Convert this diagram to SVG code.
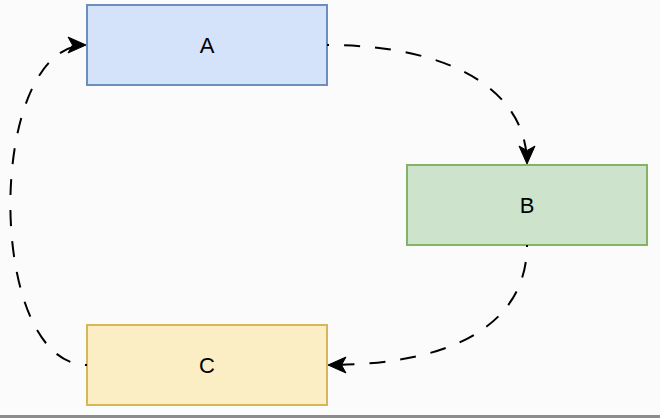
<svg xmlns="http://www.w3.org/2000/svg" width="660" height="418" viewBox="0 0 660 418">
  <style>
    .box { stroke-width: 2; }
    .label { font-family: "Liberation Sans", Arial, Helvetica, sans-serif; fill: #000; text-anchor: middle; }
    .edge { fill: none; stroke: #000; stroke-width: 2; stroke-dasharray: 16 15; stroke-dashoffset: 14; marker-end: url(#arrow); }
  </style>
  <defs>
    <marker id="arrow" markerUnits="userSpaceOnUse" viewBox="-20 -10 22 20" refX="0" refY="0" markerWidth="22" markerHeight="20" orient="auto" overflow="visible">
      <path d="M0,0 L-18,-8 L-13.5,0 L-18,8 Z" fill="#000" stroke="#000" stroke-width="1" stroke-linejoin="miter"/>
    </marker>
  </defs>

  <rect x="0" y="0" width="660" height="418" fill="#fbfbfb"/>
  <line x1="0" y1="416.5" x2="660" y2="416.5" stroke="#8c8c8c" stroke-width="3"/>

  <g id="node-a">
    <rect class="box" x="87" y="5" width="240" height="80" fill="#d4e3f9" stroke="#6c8ebf"/>
    <text class="label" x="207" y="53" font-size="22">A</text>
  </g>
  <g id="node-b">
    <rect class="box" x="407" y="165" width="240" height="80" fill="#cde3cc" stroke="#82b366"/>
    <text class="label" x="527" y="213" font-size="22">B</text>
  </g>
  <g id="node-c">
    <rect class="box" x="87" y="325" width="240" height="80" fill="#fbedc4" stroke="#d6b656"/>
    <text class="label" x="207" y="373" font-size="22">C</text>
  </g>

  <g id="connectors">
    <path class="edge" d="M327,45 C450,45 527,90 527,164"/>
    <path class="edge" d="M527,245 C527,320 460,365 328,365"/>
    <path class="edge" d="M87,365 C-15,365 -15,45 86,45"/>
  </g>
</svg>
